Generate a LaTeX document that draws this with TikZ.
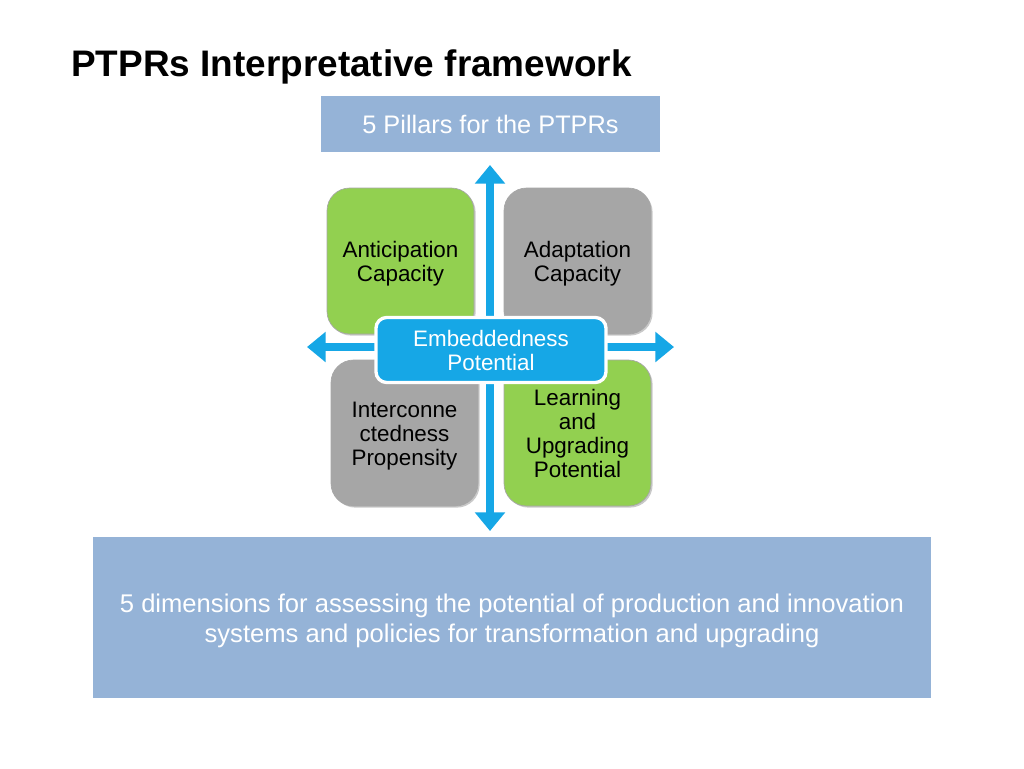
\documentclass[tikz,border=0pt]{standalone}
\usepackage{fontspec}
\setmainfont{Liberation Sans}
\usetikzlibrary{arrows.meta,shadows}
\definecolor{paleblue}{RGB}{149,179,215}
\definecolor{leaf}{RGB}{146,208,80}
\definecolor{stone}{RGB}{166,166,166}
\definecolor{sky}{RGB}{22,167,230}
\tikzset{
  pillar/.style={rounded corners=17pt, minimum width=110.25pt, minimum height=109.5pt,
     align=center, font=\fontsize{16.8}{18}\selectfont, text=black,
     draw=black!35, line width=0.5pt,
     drop shadow={shadow xshift=1.2pt, shadow yshift=-1.2pt, opacity=0.35, fill=black!60}},
  greenpillar/.style={pillar, fill=leaf},
  graypillar/.style={pillar, fill=stone},
  banner/.style={fill=paleblue, text=white, align=center, inner sep=0pt},
  pillartext/.style={align=center, font=\fontsize{16.8}{18}\selectfont, text=black},
  axis/.style={draw=sky, line width=6.5pt, {Triangle[width=22pt,length=14pt]}-{Triangle[width=22pt,length=14pt]}},
}
\begin{document}
\begin{tikzpicture}[x=0.75pt,y=-0.75pt]
\useasboundingbox (0,0) rectangle (1024,768);
\fill[white] (0,0) rectangle (1024,768);
% title
\node[anchor=west, font=\bfseries\fontsize{27.7}{30}\selectfont, inner sep=0pt] (title) at (71,67) {PTPRs Interpretative framework};
% top banner
\node[banner, minimum width=254.25pt, minimum height=42pt, font=\fontsize{19}{22}\selectfont] (top) at (490.5,124) {5 Pillars for the PTPRs};
% bottom banner
\node[banner, minimum width=628.5pt, minimum height=120.75pt] (bottom) at (512,617.5) {};
\node[font=\fontsize{19.2}{22.5}\selectfont, text=white, align=center] (btext) at (512,621) {5 dimensions for assessing the potential of production and innovation\\systems and policies for transformation and upgrading};
% pillars
\node[greenpillar] (ant) at (400.5,261) {};
\node[graypillar] (ada) at (577.5,261) {};
\node[graypillar] (int) at (404.5,433) {};
\node[greenpillar] (lea) at (577.5,433) {};
\node[pillartext] (antt) at (400.5,264) {Anticipation\\Capacity};
\node[pillartext] (adat) at (577.5,264) {Adaptation\\Capacity};
\node[pillartext] (intt) at (404.5,436) {Interconne\\ctedness\\Propensity};
\node[pillartext] (leat) at (577.5,433) {Learning\\and\\Upgrading\\Potential};
% axes
\coordinate (up) at (490,165);
\coordinate (down) at (490,531);
\coordinate (left) at (307,347);
\coordinate (right) at (674,347);
\draw[axis] (down) -- (up);
\draw[axis] (left) -- (right);
% centre
\node[rounded corners=8pt, fill=sky, draw=white, line width=2.5pt, minimum width=172.5pt, minimum height=48.75pt,
      align=center, text=white, font=\fontsize{16.8}{18}\selectfont] (emb) at (491,350) {Embeddedness\\Potential};
\end{tikzpicture}
\end{document}
